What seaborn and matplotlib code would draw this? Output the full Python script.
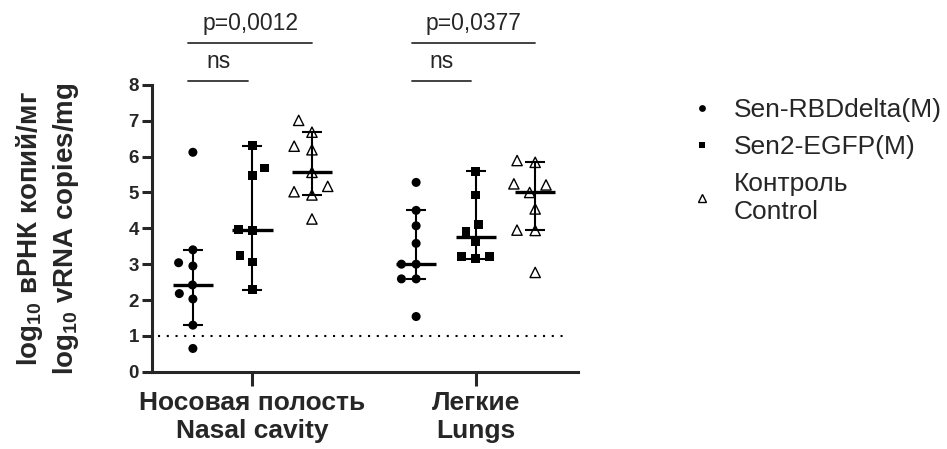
import math
import numpy as np
import pandas as pd
import matplotlib
matplotlib.use("Agg")
import matplotlib.pyplot as plt
from matplotlib.lines import Line2D
from matplotlib.markers import MarkerStyle
from matplotlib.transforms import Affine2D
import seaborn as sns

# values (log10 copies/mg)
tissues = ["Носовая полость\nNasal cavity", "Легкие\nLungs"]
groups = ["Sen-RBDdelta(M)", "Sen2-EGFP(M)", "Контроль\nControl"]

nasal_rbd = [6.12, 3.40, 3.04, 2.95, 2.42, 2.18, 2.03, 1.30, 0.65]
nasal_egfp = [6.30, 5.68, 5.47, 3.97, 3.93, 3.24, 3.06, 2.29]
nasal_ctrl = [7.01, 6.68, 6.29, 6.19, 5.56, 5.17, 5.02, 4.93, 4.26]
lung_rbd = [5.28, 4.50, 4.07, 3.58, 3.00, 3.00, 2.59, 2.59, 1.54]
lung_egfp = [5.59, 4.93, 4.10, 3.91, 3.63, 3.22, 3.21, 3.15]
lung_ctrl = [5.89, 5.84, 5.24, 5.21, 5.00, 4.54, 3.95, 3.94, 2.77]

p_labels = ["p=0,0012", "p=0,0377"]
ns_labels = ["ns", "ns"]
lod = 1

series = {
    (tissues[0], groups[0]): nasal_rbd,
    (tissues[0], groups[1]): nasal_egfp,
    (tissues[0], groups[2]): nasal_ctrl,
    (tissues[1], groups[0]): lung_rbd,
    (tissues[1], groups[1]): lung_egfp,
    (tissues[1], groups[2]): lung_ctrl,
}
df = pd.DataFrame(
    [(t, g, v) for (t, g), vals in series.items() for v in vals],
    columns=["tissue", "group", "value"],
)

sns.set_style("ticks")
plt.rcParams["font.family"] = ["Liberation Sans", "DejaVu Sans"]
plt.rcParams["mathtext.fontset"] = "custom"
plt.rcParams["mathtext.rm"] = "Liberation Sans"
plt.rcParams["mathtext.bf"] = "Liberation Sans:bold"

palette = {groups[0]: "black", groups[1]: "black", groups[2]: "white"}
markers = {groups[0]: "o", groups[1]: "s", groups[2]: "^"}
sizes = {groups[0]: 6.5, groups[1]: 6.3, groups[2]: 7.4}
widths = {groups[0]: 0, groups[1]: 0, groups[2]: 1.0}
spread = 1.55  # Prism spreads colliding points wider than the symbol size

fig = plt.figure(figsize=(9.47, 4.49), dpi=100)
ax = fig.add_axes([0.160, 0.172, 0.450, 0.639])

for g in groups:
    m = MarkerStyle(markers[g], transform=Affine2D().scale(1 / spread))
    sns.swarmplot(
        data=df[df["group"] == g], x="tissue", y="value", hue="group",
        order=tissues, hue_order=groups, dodge=True, palette=palette,
        marker=m, size=sizes[g] * spread, edgecolor="black",
        linewidth=widths[g], legend=False, ax=ax, zorder=3,
    )

# median with 95% CI of the median (rank based, as in Prism)
step = 0.8 / len(groups)
offsets = np.linspace(0, 0.8 - step, len(groups)) - (0.8 - step) / 2
for (t, g), vals in series.items():
    x = tissues.index(t) + offsets[groups.index(g)]
    v = np.sort(vals)
    n = len(v)
    r = 1
    while sum(math.comb(n, i) for i in range(r + 1)) / 2 ** n <= 0.025:
        r += 1
    lo, hi = v[r - 1], v[n - r]
    med = np.median(v)
    ax.vlines(x, lo, hi, color="black", lw=1.5, zorder=4)
    ax.hlines([lo, hi], x - 0.045, x + 0.045, color="black", lw=1.5, zorder=4)
    ax.hlines(med, x - 0.09, x + 0.09, color="black", lw=2.4, zorder=4)

ax.axhline(lod, xmin=0.015, xmax=0.98, color="black", lw=1.5,
           linestyle=(0, (1, 3.2)), zorder=2)

# significance brackets
for i in range(len(tissues)):
    x0 = i + offsets[0] - 0.02
    x1 = i + offsets[1] - 0.02
    x2 = i + offsets[2]
    ax.plot([x0, x2], [9.18, 9.18], color="#333333", lw=1.3, clip_on=False)
    ax.text((x0 + x2) / 2, 9.38, p_labels[i], ha="center", va="bottom",
            fontsize=16.5)
    ax.plot([x0, x1], [8.12, 8.12], color="#333333", lw=1.3, clip_on=False)
    ax.text((x0 + x1) / 2, 8.33, ns_labels[i], ha="center", va="bottom",
            fontsize=16.5)

ax.set_xlim(-0.452, 1.457)
ax.set_ylim(0, 8)
ax.set_yticks(range(0, 9))
ax.set_xlabel("")
ax.set_ylabel("log$_{\\mathbf{10}}$ вРНК копий/мг\nlog$_{\\mathbf{10}}$ vRNA copies/mg",
              fontsize=20, fontweight="bold", labelpad=34, linespacing=1.3)
for s in ["top", "right"]:
    ax.spines[s].set_visible(False)
for s in ["left", "bottom"]:
    ax.spines[s].set_linewidth(2.2)
ax.tick_params(axis="y", width=2.2, length=7, labelsize=13.5, pad=2)
ax.tick_params(axis="x", width=2.2, length=10, labelsize=19, pad=4)
for lab in ax.get_yticklabels() + ax.get_xticklabels():
    lab.set_fontweight("bold")
for lab in ax.get_xticklabels():
    lab.set_linespacing(1.2)

handles = [
    Line2D([], [], ls="", marker=markers[g], markersize=sizes[g] * 0.75,
           markerfacecolor=palette[g], markeredgecolor="black",
           markeredgewidth=max(widths[g], 0.01))
    for g in groups
]
fig.legend(handles, groups, loc="upper left", bbox_to_anchor=(0.702, 0.835),
           frameon=False, fontsize=19, handletextpad=0.7, labelspacing=0.5,
           handlelength=1.0)

fig.savefig("out.png", dpi=100)
